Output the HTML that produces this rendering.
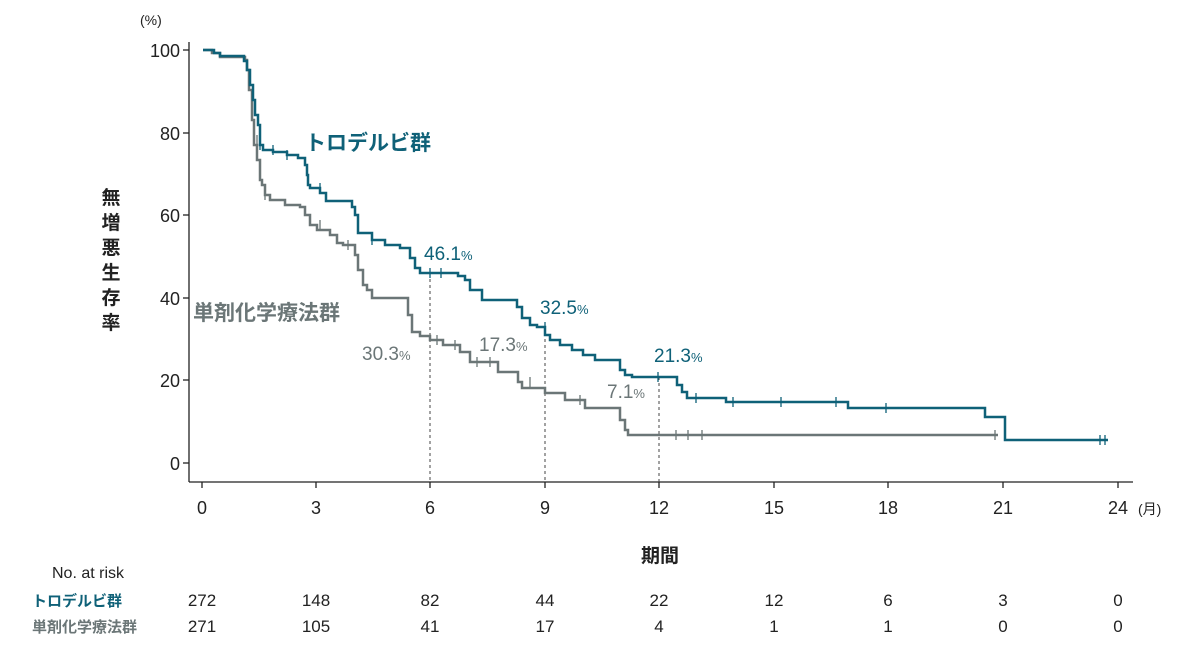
<!DOCTYPE html>
<html><head><meta charset="utf-8"><style>
body{margin:0;background:#fff;}
svg text{font-family:"Liberation Sans","Noto Sans CJK JP",sans-serif;}
</style></head><body>
<svg width="1200" height="649" viewBox="0 0 1200 649" xmlns="http://www.w3.org/2000/svg">
<g stroke="#222" stroke-width="1.3" fill="none">
<line x1="189" y1="42" x2="189" y2="482"/>
<line x1="189" y1="482" x2="1133" y2="482"/>
<line x1="183" y1="50" x2="189" y2="50"/><line x1="183" y1="133" x2="189" y2="133"/><line x1="183" y1="215" x2="189" y2="215"/><line x1="183" y1="298" x2="189" y2="298"/><line x1="183" y1="380" x2="189" y2="380"/><line x1="183" y1="463" x2="189" y2="463"/>
<line x1="202" y1="482" x2="202" y2="488"/><line x1="316" y1="482" x2="316" y2="488"/><line x1="430" y1="482" x2="430" y2="488"/><line x1="545" y1="482" x2="545" y2="488"/><line x1="659" y1="482" x2="659" y2="488"/><line x1="774" y1="482" x2="774" y2="488"/><line x1="888" y1="482" x2="888" y2="488"/><line x1="1003" y1="482" x2="1003" y2="488"/><line x1="1118" y1="482" x2="1118" y2="488"/>
</g>
<g stroke="#444" stroke-width="1" stroke-dasharray="3,3">
<line x1="430" y1="273" x2="430" y2="482"/><line x1="545" y1="327" x2="545" y2="482"/><line x1="659" y1="377" x2="659" y2="482"/>
</g>
<g font-size="18" fill="#222" text-anchor="end">
<text x="180" y="57">100</text><text x="180" y="140">80</text><text x="180" y="222">60</text><text x="180" y="305">40</text><text x="180" y="387">20</text><text x="180" y="470">0</text>
</g>
<text x="140" y="25" font-size="14" fill="#222">(%)</text>
<g font-size="18" fill="#222" text-anchor="middle">
<text x="202" y="514">0</text><text x="316" y="514">3</text><text x="430" y="514">6</text><text x="545" y="514">9</text><text x="659" y="514">12</text><text x="774" y="514">15</text><text x="888" y="514">18</text><text x="1003" y="514">21</text><text x="1118" y="514">24</text>
</g>
<text x="1138" y="514" font-size="14" fill="#222">(月)</text>
<g font-size="19" font-weight="bold" fill="#222" text-anchor="middle">
<text x="111" y="204">無</text><text x="111" y="229">増</text><text x="111" y="254">悪</text><text x="111" y="279">生</text><text x="111" y="304">存</text><text x="111" y="329">率</text>
</g>
<text x="660" y="562" font-size="19" font-weight="bold" fill="#222" text-anchor="middle">期間</text>
<polyline fill="none" stroke="#6b7677" stroke-width="2.5" points="203,50 212,50 212,53 220,53 220,57 245,57 245,60 247,60 247,70 249,70 249,90 252,90 252,120 254,120 254,145 257,145 257,160 260,160 260,180 262,180 262,185 265,185 265,195 270,195 270,200 285,200 285,205 300,205 300,207 305,207 305,215 310,215 310,225 317,225 317,230 330,230 330,235 337,235 337,243 343,243 343,245 355,245 355,255 358,255 358,270 363,270 363,285 367,285 367,290 372,290 372,298 408,298 408,315 412,315 412,332 420,332 420,336 430,336 430,340 443,340 443,345 460,345 460,352 470,352 470,362 498,362 498,372 518,372 518,382 522,382 522,388 545,388 545,393 565,393 565,400 585,400 585,408 620,408 620,420 625,420 625,430 628,430 628,435 998,435"/>
<polyline fill="none" stroke="#0f6178" stroke-width="2.5" points="203,50 214,50 214,53 220,53 220,56 244,56 244,61 247,61 247,70 250,70 250,85 253,85 253,100 255,100 255,115 258,115 258,125 260,125 260,145 263,145 263,150 273,150 273,152 287,152 287,155 298,155 298,158 305,158 305,165 307,165 307,175 308,175 308,185 310,185 310,188 320,188 320,193 326,193 326,201 352,201 352,207 355,207 355,215 358,215 358,233 372,233 372,240 385,240 385,245 400,245 400,248 410,248 410,258 415,258 415,268 420,268 420,273 458,273 458,276 465,276 465,280 470,280 470,290 482,290 482,300 517,300 517,307 522,307 522,318 530,318 530,325 537,325 537,327 545,327 545,335 550,335 550,340 560,340 560,345 572,345 572,350 583,350 583,355 595,355 595,360 620,360 620,370 625,370 625,375 632,375 632,377 677,377 677,385 682,385 682,392 687,392 687,398 726,398 726,402 848,402 848,408 985,408 985,417 1005,417 1005,440 1108,440"/>
<g stroke="#0f6178" stroke-width="1.3">
<path d="M260 140v10M273 145v10M287 150v10M320 183v10M372 235v10M430 268v10M441 268v10M545 322v10M658 372v10M696 393v10M733 397v10M781 397v10M836 397v10M886 403v10M1100 435v10M1105 435v10"/>
</g>
<g stroke="#6b7677" stroke-width="1.3">
<path d="M257 135v10M265 190v10M320 220v10M348 240v10M437 335v10M455 340v10M477 357v10M490 357v10M530 377v10M580 395v10M676 430v10M688 430v10M702 430v10M995 430v10"/>
</g>
<text x="305" y="150" font-size="21" font-weight="bold" fill="#0f6178">トロデルビ群</text>
<text x="193" y="320" font-size="21" font-weight="bold" fill="#6b7677">単剤化学療法群</text>
<g font-size="19" fill="#0f6178"><text x="424" y="260">46.1<tspan font-size="13">%</tspan></text><text x="540" y="314">32.5<tspan font-size="13">%</tspan></text><text x="654" y="362">21.3<tspan font-size="13">%</tspan></text></g>
<g font-size="19" fill="#6b7677"><text x="362" y="360">30.3<tspan font-size="13">%</tspan></text><text x="479" y="351">17.3<tspan font-size="13">%</tspan></text><text x="607" y="398">7.1<tspan font-size="13">%</tspan></text></g>
<text x="52" y="578" font-size="16" fill="#222">No. at risk</text>
<text x="32" y="606" font-size="15" font-weight="bold" fill="#0f6178">トロデルビ群</text>
<text x="32" y="632" font-size="15" font-weight="bold" fill="#6b7677">単剤化学療法群</text>
<g font-size="17" fill="#222" text-anchor="middle">
<text x="202" y="606">272</text><text x="316" y="606">148</text><text x="430" y="606">82</text><text x="545" y="606">44</text><text x="659" y="606">22</text><text x="774" y="606">12</text><text x="888" y="606">6</text><text x="1003" y="606">3</text><text x="1118" y="606">0</text>
<text x="202" y="632">271</text><text x="316" y="632">105</text><text x="430" y="632">41</text><text x="545" y="632">17</text><text x="659" y="632">4</text><text x="774" y="632">1</text><text x="888" y="632">1</text><text x="1003" y="632">0</text><text x="1118" y="632">0</text>
</g>
</svg>
</body></html>
